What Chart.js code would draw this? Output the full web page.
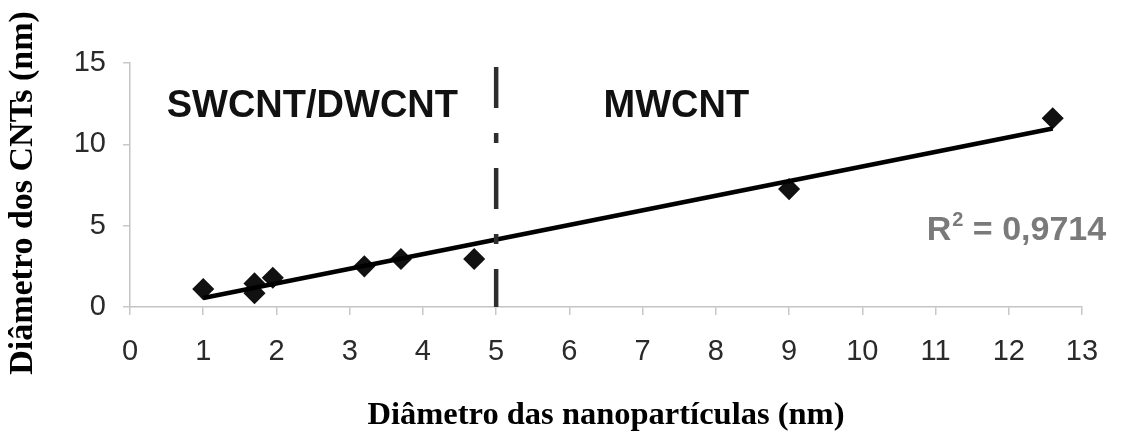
<!DOCTYPE html>
<html>
<head>
<meta charset="utf-8">
<script src="https://cdn.jsdelivr.net/npm/chart.js@4.4.0/dist/chart.umd.min.js"></script>
<style>
html,body{margin:0;padding:0;background:#fff;}
#wrap{width:1121px;height:445px;}
</style>
</head>
<body>
<div id="wrap"><canvas id="c" width="1121" height="445"></canvas></div>
<script>
// ---- data ----
const particleDiam = [1.0, 1.7, 1.7, 1.95, 3.2, 3.7, 4.7, 9.0, 12.6];
const cntDiam      = [1.1, 1.45, 0.85, 1.8, 2.5, 2.95, 2.95, 7.25, 11.6];
const xTicks = [0,1,2,3,4,5,6,7,8,9,10,11,12,13];
const yTicks = [0,5,10,15];
const boundaryX = 5;
const xTitle = 'Diâmetro das nanopartículas (nm)';
const yTitle = 'Diâmetro dos CNTs (nm)';
const regionLabels = ['SWCNT/DWCNT', 'MWCNT'];
const regionLabelX = [2.49, 7.46];
const regionLabelY = 12.3;
const r2Text = ' = 0,9714';
const r2Pos = [10.88, 4.67];

// least-squares trend line (as in the spreadsheet's linear trendline)
const n = particleDiam.length;
const mx = particleDiam.reduce((a,b)=>a+b,0)/n;
const my = cntDiam.reduce((a,b)=>a+b,0)/n;
let sxy=0, sxx=0;
for (let i=0;i<n;i++){ sxy += (particleDiam[i]-mx)*(cntDiam[i]-my); sxx += (particleDiam[i]-mx)**2; }
const slope = sxy/sxx, intercept = my - slope*mx;
const xMin = Math.min(...particleDiam), xMax = Math.max(...particleDiam);
const trend = [{x:xMin, y:intercept+slope*xMin},{x:xMax, y:intercept+slope*xMax}];

const points = particleDiam.map((x,i)=>({x, y:cntDiam[i]}));

const annot = {
  id:'annot',
  afterDatasetsDraw(chart){
    const {ctx, scales:{x, y}, chartArea} = chart;
    ctx.save();
    ctx.fillStyle = '#111';
    ctx.font = 'bold 38px "Liberation Sans", Arial, sans-serif';
    ctx.textAlign = 'center';
    ctx.textBaseline = 'middle';
    regionLabels.forEach((t,i)=>{
      ctx.fillText(t, x.getPixelForValue(regionLabelX[i]), y.getPixelForValue(regionLabelY));
    });
    // R² label
    ctx.fillStyle = '#7a7a7a';
    ctx.textAlign = 'left';
    let px = x.getPixelForValue(r2Pos[0]);
    const py = y.getPixelForValue(r2Pos[1]);
    ctx.font = 'bold 34px "Liberation Sans", Arial, sans-serif';
    ctx.fillText('R', px, py);
    px += ctx.measureText('R').width;
    ctx.font = 'bold 20px "Liberation Sans", Arial, sans-serif';
    ctx.fillText('2', px + 1, py - 11);
    px += ctx.measureText('2').width + 1;
    ctx.font = 'bold 34px "Liberation Sans", Arial, sans-serif';
    ctx.fillText(r2Text, px, py);
    // y-axis title (rotated), slightly below the plot centre as in the reference
    ctx.fillStyle = '#000';
    ctx.font = 'bold 34px "Liberation Serif", "Times New Roman", serif';
    ctx.textAlign = 'center';
    ctx.translate(23, (chartArea.top + chartArea.bottom) / 2 + 8);
    ctx.rotate(-Math.PI / 2);
    ctx.fillText(yTitle, 0, 0);
    ctx.restore();
  }
};

new Chart(document.getElementById('c'), {
  type: 'scatter',
  data: {
    datasets: [
      {
        label: 'boundary',
        type: 'line',
        data: [{x:boundaryX, y:15},{x:boundaryX, y:0}],
        borderColor: '#2e2e2e',
        borderWidth: 4.5,
        borderDash: [41,25,10,25],
        borderDashOffset: 97,
        pointRadius: 0,
        fill: false
      },
      {
        label: 'trend',
        type: 'line',
        data: trend,
        borderColor: '#000',
        borderWidth: 4.5,
        pointRadius: 0,
        fill: false
      },
      {
        label: 'data',
        data: points,
        pointStyle: 'rectRot',
        pointRadius: 10,
        pointBackgroundColor: '#111',
        pointBorderColor: '#111',
        pointBorderWidth: 1.5
      }
    ]
  },
  options: {
    responsive: false,
    animation: false,
    layout: { padding: { left: 0, top: 63, right: 39, bottom: 0 } },
    plugins: { legend: { display: false }, tooltip: { enabled: false } },
    scales: {
      x: {
        type: 'linear',
        min: 0, max: 13,
        afterBuildTicks(s){ s.ticks = xTicks.map(v=>({value:v})); },
        afterFit(s){ s.height = 138; },
        grid: { drawOnChartArea: false, drawTicks: true, tickLength: 8, color: '#c8c8c8', lineWidth: 1.5 },
        border: { color: '#c4c4c4', width: 1.5 },
        ticks: { color: '#2a2a2a', padding: 20, font: { family: '"Liberation Sans", Arial, sans-serif', size: 29 } },
        title: { display: true, text: xTitle, color: '#000', padding: { top: 0, bottom: 10 },
                 font: { family: '"Liberation Serif", "Times New Roman", serif', size: 32.5, weight: 'bold' } }
      },
      y: {
        type: 'linear',
        min: 0, max: 15,
        afterBuildTicks(s){ s.ticks = yTicks.map(v=>({value:v})); },
        afterFit(s){ s.width = 130; },
        grid: { drawOnChartArea: false, drawTicks: true, tickLength: 7, color: '#c8c8c8', lineWidth: 1.5 },
        border: { color: '#c4c4c4', width: 1.5 },
        ticks: { color: '#2a2a2a', padding: 17, font: { family: '"Liberation Sans", Arial, sans-serif', size: 29 } },
        title: { display: false }
      }
    }
  },
  plugins: [annot]
});
</script>
</body>
</html>
